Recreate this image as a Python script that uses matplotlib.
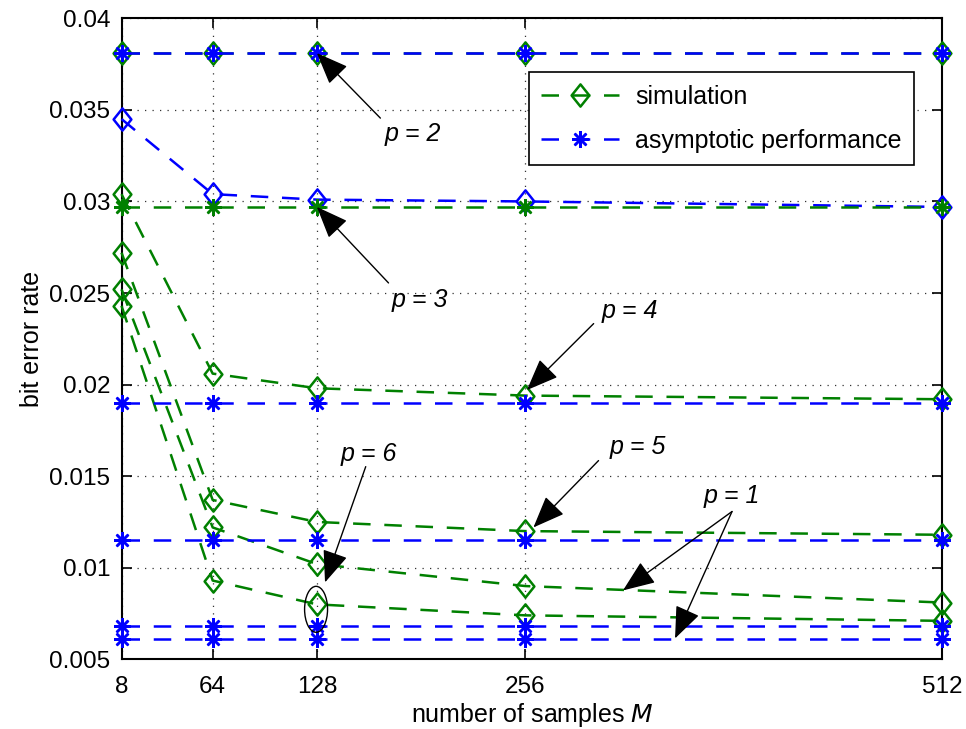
import matplotlib
matplotlib.use('Agg')
import matplotlib.pyplot as plt
from matplotlib.lines import Line2D
from matplotlib.path import Path
from matplotlib.patches import Ellipse

plt.rcParams['font.family'] = ['Liberation Sans', 'DejaVu Sans']
plt.rcParams['font.size'] = 18

# number of samples M
M = [8, 64, 128, 256, 512]

# simulated bit error rate for each p
sim_p1 = [0.0252, 0.0122, 0.0102, 0.0090, 0.0081]
sim_p2 = [0.0381, 0.0381, 0.0381, 0.0381, 0.0381]
sim_p3 = [0.0345, 0.0304, 0.0301, 0.0300, 0.0297]
sim_p4 = [0.0304, 0.0206, 0.0198, 0.0194, 0.0192]
sim_p5 = [0.0272, 0.0137, 0.0125, 0.0120, 0.0118]
sim_p6 = [0.0243, 0.0093, 0.0080, 0.0074, 0.0071]

# asymptotic bit error rate for each p
asy_p1 = [0.0061, 0.0061, 0.0061, 0.0061, 0.0061]
asy_p2 = [0.0381, 0.0381, 0.0381, 0.0381, 0.0381]
asy_p3 = [0.0297, 0.0297, 0.0297, 0.0297, 0.0297]
asy_p4 = [0.0190, 0.0190, 0.0190, 0.0190, 0.0190]
asy_p5 = [0.0115, 0.0115, 0.0115, 0.0115, 0.0115]
asy_p6 = [0.0068, 0.0068, 0.0068, 0.0068, 0.0068]

yticks = [0.005, 0.01, 0.015, 0.02, 0.025, 0.03, 0.035, 0.04]
ytick_labels = ['0.005', '0.01', '0.015', '0.02', '0.025', '0.03', '0.035', '0.04']

green = '#008000'
blue = '#0000ff'
diamond = Path([(0, 1), (0.8, 0), (0, -1), (-0.8, 0), (0, 1)],
               [Path.MOVETO, Path.LINETO, Path.LINETO, Path.LINETO, Path.CLOSEPOLY])
star = (8, 2, 0)
dash = (7, 5.5)
lw = 1.8

fig = plt.figure(figsize=(9.66, 7.29), dpi=100)
ax = fig.add_axes([0.1258, 0.0956, 0.8494, 0.8793])


def sim_line(y, color):
    ax.plot(M, y, color=color, lw=lw, dashes=dash, marker=diamond, ms=16,
            mfc='none', mec=color, mew=lw, zorder=3, clip_on=False)


def asy_line(y, color):
    ax.plot(M, y, color=color, lw=lw, dashes=dash, marker=star, ms=12,
            mec=color, mew=lw, zorder=4, clip_on=False)


for s in [sim_p1, sim_p2, sim_p4, sim_p5, sim_p6]:
    sim_line(s, green)
sim_line(sim_p3, blue)
for a in [asy_p1, asy_p2, asy_p4, asy_p5, asy_p6]:
    asy_line(a, blue)
asy_line(asy_p3, green)

ax.set_xlim(8, 512)
ax.set_ylim(0.005, 0.04)
ax.set_xticks(M)
ax.set_xticklabels([str(m) for m in M])
ax.set_yticks(yticks)
ax.set_yticklabels(ytick_labels)
ax.tick_params(direction='in', top=True, right=True, length=7, width=1.2,
               labelsize=17.5, pad=8)
ax.tick_params(axis='x', pad=12)
for sp in ax.spines.values():
    sp.set_linewidth(1.5)
ax.grid(True, color='0.2', linestyle=(0, (1, 5)), linewidth=0.9)
ax.set_axisbelow(True)

ax.set_xlabel('number of samples $\\it{M}$', fontsize=18, labelpad=2)
ax.set_ylabel('bit error rate', fontsize=18, labelpad=4)

# p labels and arrows
labels = [
    ('p = 2', (187, 0.0337), [((167, 0.03455), (128, 0.0381))]),
    ('p = 3', (191, 0.0246), [((172, 0.02555), (128, 0.0297))]),
    ('p = 4', (320, 0.0240), [((298, 0.02333), (257, 0.0197))]),
    ('p = 5', (325, 0.0166), [((301, 0.01585), (261, 0.0122))]),
    ('p = 1', (383, 0.0139), [((383, 0.01307), (316, 0.00876)),
                              ((383, 0.01307), (348, 0.00614))]),
    ('p = 6', (160, 0.0162), [((158, 0.01552), (133, 0.0092))]),
]
for txt, pos, arrows in labels:
    ax.text(pos[0], pos[1], txt, style='italic', fontsize=18,
            ha='center', va='center', zorder=6)
    for tail, head in arrows:
        ax.annotate('', xy=head, xytext=tail,
                    arrowprops=dict(arrowstyle='-|>,head_length=1.0,head_width=0.4',
                                    mutation_scale=20, color='k', lw=1.0,
                                    shrinkA=0, shrinkB=0),
                    zorder=6)

ax.add_patch(Ellipse((127.5, 0.00773), 14.1, 0.00251, fill=False,
                     edgecolor='k', lw=1.0, zorder=6))

handles = [
    Line2D([], [], color=green, lw=lw, dashes=dash, marker=diamond, ms=16,
           mfc='none', mec=green, mew=lw),
    Line2D([], [], color=blue, lw=lw, dashes=dash, marker=star, ms=12,
           mec=blue, mew=lw),
]
leg = ax.legend(handles, ['simulation', 'asymptotic performance'],
                loc='upper right', bbox_to_anchor=(0.966, 0.916),
                borderaxespad=0, fancybox=False, framealpha=1,
                edgecolor='k', fontsize=18, handlelength=3.1,
                handletextpad=0.65, labelspacing=0.8, borderpad=0.5,
                numpoints=1)
leg.get_frame().set_linewidth(1.2)
leg.set_zorder(7)

fig.savefig('out.png', dpi=100)
